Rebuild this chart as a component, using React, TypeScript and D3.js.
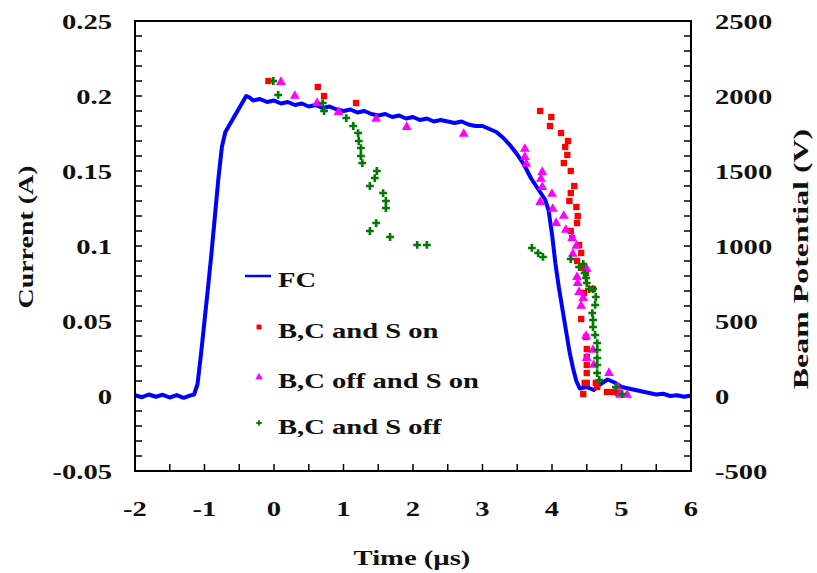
import React from "react";
import * as d3 from "d3";

// FC current trace (time in µs, current in A)
const fcTime = [
  -2.0, -1.9, -1.8, -1.7, -1.6, -1.5, -1.4, -1.3, -1.2, -1.15, -1.1, -1.05, -1.0, -0.95, -0.9, -0.85,
  -0.8, -0.75, -0.7, -0.65, -0.6, -0.55, -0.5, -0.45, -0.4, -0.35, -0.3, -0.2, -0.1, 0.0, 0.1, 0.2,
  0.3, 0.4, 0.5, 0.6, 0.7, 0.8, 0.9, 1.0, 1.1, 1.2, 1.3, 1.4, 1.5, 1.6, 1.7, 1.8, 1.9, 2.0, 2.1,
  2.2, 2.3, 2.4, 2.5, 2.6, 2.7, 2.8, 2.9, 3.0, 3.1, 3.2, 3.3, 3.4, 3.5, 3.6, 3.7, 3.8, 3.9, 3.95,
  4.0, 4.05, 4.1, 4.15, 4.2, 4.25, 4.3, 4.35, 4.4, 4.5, 4.6, 4.7, 4.8, 4.9, 5.0, 5.1, 5.2, 5.3,
  5.4, 5.5, 5.6, 5.7, 5.8, 5.9, 6.0,
];
const fcCurrent = [
  0.0005, -0.0008, 0.001, -0.0005, 0.0008, -0.001, 0.0006, -0.0012, 0.0004, 0.001, 0.008, 0.028,
  0.05, 0.072, 0.095, 0.12, 0.145, 0.166, 0.176, 0.18, 0.184, 0.188, 0.192, 0.196, 0.2, 0.199,
  0.197, 0.198, 0.196, 0.197, 0.195, 0.196, 0.194, 0.195, 0.193, 0.194, 0.192, 0.193, 0.191, 0.19,
  0.191, 0.189, 0.19, 0.188, 0.187, 0.188, 0.186, 0.187, 0.185, 0.186, 0.184, 0.185, 0.183, 0.184,
  0.183, 0.182, 0.183, 0.181, 0.18, 0.18, 0.178, 0.176, 0.172, 0.167, 0.161, 0.154, 0.145, 0.138,
  0.131, 0.124, 0.108, 0.088, 0.072, 0.058, 0.044, 0.03, 0.019, 0.01, 0.005, 0.006, 0.004, 0.008,
  0.011, 0.009, 0.006, 0.005, 0.004, 0.003, 0.002, 0.001, 0.0015, 0.0, 0.0005, -0.0005, 0.0003,
];

// B,C and S on (time µs, beam potential V)
const onTime = [
  -0.08, 0.63, 0.72, 1.18, 3.83, 3.99, 3.97, 4.13, 4.23, 4.19, 4.22, 4.17, 4.27, 4.32, 4.27, 4.25,
  4.35, 4.37, 4.36, 4.27, 4.29, 4.39, 4.42, 4.36, 4.45, 4.49, 4.59, 4.46, 4.42, 4.49, 4.5, 4.5,
  4.5, 4.5, 4.5, 4.47, 4.63, 4.45, 4.65, 4.79, 4.88, 4.95,
];
const onVolt = [
  2100, 2060, 2000, 1953, 1900, 1860, 1800, 1753, 1700, 1660, 1607, 1553, 1500, 1400, 1353, 1300,
  1260, 1200, 1153, 1100, 1053, 1007, 953, 900, 853, 820, 713, 687, 513, 393, 313, 260, 207, 153,
  87, 87, 87, 13, 60, 27, 27, 20,
];

// B,C off and S on
const offOnTime = [
  0.1, 0.3, 0.62, 0.93, 1.47, 1.91, 2.73, 3.61, 3.61, 3.63, 3.86, 3.84, 3.86, 4.0, 3.83, 4.01, 4.17,
  4.06, 4.2, 4.29, 4.35, 4.3, 4.5, 4.36, 4.37, 4.39, 4.45, 4.42, 4.49, 4.59, 4.5, 4.6, 4.82, 4.94,
  4.98, 5.08,
];
const offOnVolt = [
  2093, 2000, 1953, 1893, 1847, 1793, 1747, 1647, 1593, 1547, 1493, 1447, 1393, 1347, 1293, 1247,
  1200, 1153, 1107, 1053, 1000, 947, 847, 793, 753, 693, 653, 600, 400, 307, 253, 207, 153, 60, 7, 7,
];

// B,C and S off
const offTime = [
  -0.01, 0.06, 0.7, 0.72, 1.04, 1.14, 1.21, 1.22, 1.25, 1.25, 1.27, 1.48, 1.45, 1.38, 1.57, 1.61,
  1.61, 1.47, 1.38, 1.67, 2.06, 2.2, 3.71, 3.8, 3.87, 4.27, 4.39, 4.45, 4.47, 4.49, 4.5, 4.53, 4.59,
  4.63, 4.62, 4.58, 4.59, 4.59, 4.62, 4.65, 4.65, 4.65, 4.65, 4.65, 4.68, 4.92, 5.01,
];
const offVolt = [
  2100, 2007, 1953, 1900, 1853, 1800, 1753, 1700, 1653, 1600, 1553, 1500, 1453, 1400, 1353, 1300,
  1253, 1153, 1100, 1060, 1007, 1007, 987, 953, 927, 913, 860, 880, 820, 787, 753, 713, 713, 660,
  607, 553, 507, 460, 407, 353, 307, 253, 207, 153, 107, 60, 13,
];

const xTicks = [-2, -1, 0, 1, 2, 3, 4, 5, 6];
const yTicks = [-0.05, 0, 0.05, 0.1, 0.15, 0.2, 0.25];
const yRightTicks = [-500, 0, 500, 1000, 1500, 2000, 2500];

const legendLabels = ["FC", "B,C and S on", "B,C off and S on", "B,C and S off"];

const W = 817;
const H = 573;
const left = 135;
const right = 691;
const top = 21;
const bottom = 471;
const FONT = "'Liberation Serif', 'Times New Roman', serif";
const SX = 1.3; // the original text is stretched sideways

const x = d3.scaleLinear().domain([-2, 6]).range([left, right]);
const y = d3.scaleLinear().domain([-0.05, 0.25]).range([bottom, top]);
const yR = d3.scaleLinear().domain([-500, 2500]).range([bottom, top]);

const fmtLeft = (v: number) => (v === 0 ? "0" : String(+v.toFixed(2)));

const Label = ({ tx, ty, text, anchor = "start", sx = SX, rot = 0, size = 22 }: any) => (
  <text
    transform={`translate(${tx},${ty})${rot ? ` rotate(${rot})` : ""} scale(${sx},1)`}
    textAnchor={anchor}
    fontFamily={FONT}
    fontWeight="bold"
    fontSize={size}
    fill="#111"
  >
    {text}
  </text>
);

export default function App() {
  const line = d3
    .line<number>()
    .x((_, i) => x(fcTime[i]))
    .y((d) => y(d));

  const sq = d3.symbol().type(d3.symbolSquare).size(40)()!;
  const tri = d3.symbol().type(d3.symbolTriangle).size(42)()!;
  const cross = d3.symbol().type(d3.symbolCross).size(34)()!;
  const sqSmall = d3.symbol().type(d3.symbolSquare).size(24)()!;
  const triSmall = d3.symbol().type(d3.symbolTriangle).size(24)()!;
  const crossSmall = d3.symbol().type(d3.symbolCross).size(16)()!;

  const leftMinor = d3.range(-0.05, 0.2501, 0.01);
  const rightMinor = d3.range(-500, 2501, 100);
  const bottomMinor = d3.range(-2, 6.001, 0.5);

  const legendY = [276, 327, 377, 423];
  const legendMarkers = [null, { d: sqSmall, c: "#ff0000" }, { d: triSmall, c: "#ff00ff" }, { d: crossSmall, c: "#007a00" }];

  return (
    <svg width={W} height={H} style={{ position: "absolute", left: 0, top: 0, background: "#fff" }}>
      <rect width={W} height={H} fill="#fff" />

      {/* ticks */}
      {leftMinor.map((v, i) => (
        <line key={"lt" + i} x1={left} x2={left + 7} y1={y(v)} y2={y(v)} stroke="#000" strokeWidth={1.5} />
      ))}
      {rightMinor.map((v, i) => (
        <line key={"rt" + i} x1={right - 7} x2={right} y1={yR(v)} y2={yR(v)} stroke="#000" strokeWidth={1.5} />
      ))}
      {bottomMinor.map((v, i) => (
        <line key={"bt" + i} x1={x(v)} x2={x(v)} y1={bottom - 7} y2={bottom} stroke="#000" strokeWidth={1.5} />
      ))}

      {/* FC trace */}
      <path d={line(fcCurrent) || ""} fill="none" stroke="#0000ff" strokeWidth={4} strokeLinejoin="round" />

      {/* scatter series on the right axis */}
      {onTime.map((t, i) => (
        <path key={"on" + i} d={sq} transform={`translate(${x(t)},${yR(onVolt[i])})`} fill="#ff0000" />
      ))}
      {offOnTime.map((t, i) => (
        <path key={"oo" + i} d={tri} transform={`translate(${x(t)},${yR(offOnVolt[i])})`} fill="#ff00ff" />
      ))}
      {offTime.map((t, i) => (
        <path key={"of" + i} d={cross} transform={`translate(${x(t)},${yR(offVolt[i])})`} fill="#007a00" />
      ))}

      {/* frame */}
      <rect x={left} y={top} width={right - left} height={bottom - top} fill="none" stroke="#000" strokeWidth={2} />

      {/* tick labels */}
      {yTicks.map((v) => (
        <Label key={"yl" + v} tx={112} ty={y(v) + 8} text={fmtLeft(v)} anchor="end" />
      ))}
      {yRightTicks.map((v) => (
        <Label key={"yr" + v} tx={715} ty={yR(v) + 8} text={String(v)} />
      ))}
      {xTicks.map((v) => (
        <Label key={"xl" + v} tx={x(v)} ty={516} text={String(v)} anchor="middle" />
      ))}

      {/* axis titles */}
      <Label tx={33} ty={237} text="Current (A)" anchor="middle" rot={-90} sx={1.27} />
      <Label tx={808} ty={259} text="Beam Potential (V)" anchor="middle" rot={-90} sx={1.45} />
      <Label tx={412} ty={565} text="Time (µs)" anchor="middle" sx={1.3} />

      {/* legend */}
      {legendLabels.map((lab, i) => (
        <g key={"lg" + i}>
          {i === 0 ? (
            <line x1={245} x2={271} y1={legendY[i]} y2={legendY[i]} stroke="#0000ff" strokeWidth={2.5} />
          ) : (
            <path d={legendMarkers[i]!.d} transform={`translate(259,${legendY[i]})`} fill={legendMarkers[i]!.c} />
          )}
          <Label tx={278} ty={legendY[i] + 11} text={lab} sx={1.3} />
        </g>
      ))}
    </svg>
  );
}
